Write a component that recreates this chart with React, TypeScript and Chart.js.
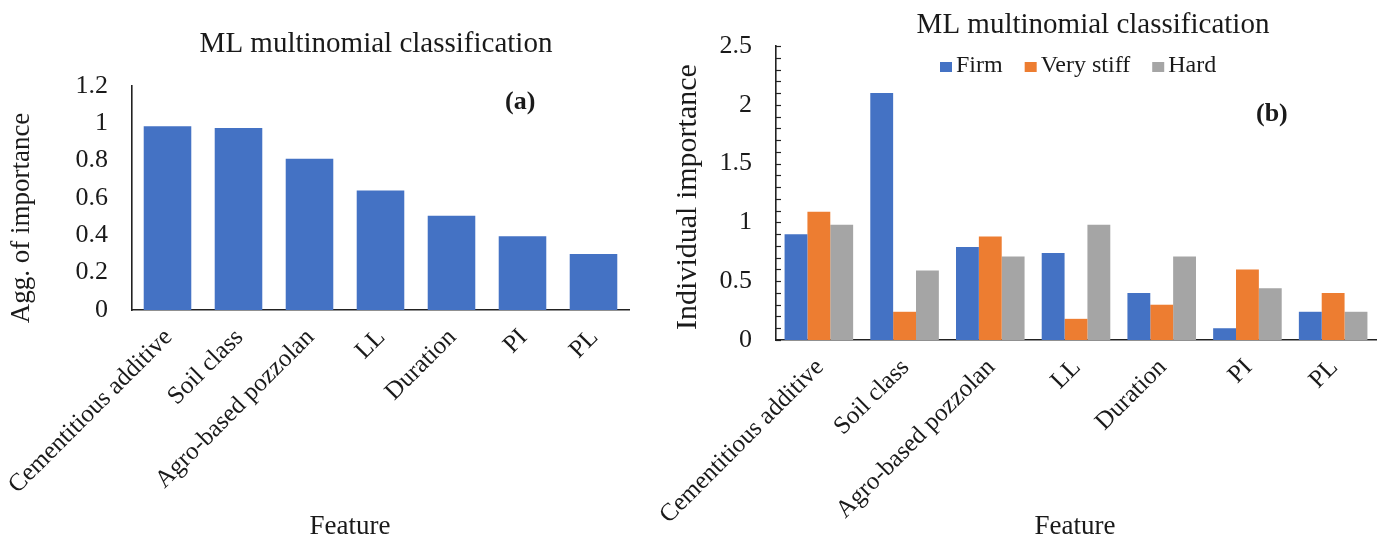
import React, { useEffect, useRef } from "react";
import { Chart, registerables } from "chart.js";

Chart.register(...registerables);

// ---------- data ----------
const CATEGORIES = [
  "Cementitious additive",
  "Soil class",
  "Agro-based pozzolan",
  "LL",
  "Duration",
  "PI",
  "PL",
];
const AGG_IMPORTANCE = [0.985, 0.975, 0.81, 0.64, 0.505, 0.395, 0.3];

const SERIES_LABELS = ["Firm", "Very stiff", "Hard"];
const FIRM = [0.9, 2.1, 0.79, 0.74, 0.4, 0.1, 0.24];
const VERY_STIFF = [1.09, 0.24, 0.88, 0.18, 0.3, 0.6, 0.4];
const HARD = [0.98, 0.59, 0.71, 0.98, 0.71, 0.44, 0.24];

const LEFT_Y_RANGE = [0, 1.2];
const LEFT_Y_STEP = 0.2;
const RIGHT_Y_RANGE = [0, 2.5];
const RIGHT_Y_STEP = 0.5;
const RIGHT_Y_MINOR_STEP = 0.1;

const TITLE_TEXT = "ML multinomial classification";
const LEFT_Y_TITLE = "Agg. of importance";
const RIGHT_Y_TITLE = "Individual importance";
const X_TITLE = "Feature";

// ---------- styles ----------
const BLUE = "#4472C4";
const ORANGE = "#ED7D31";
const GRAY = "#A5A5A5";
const TEXT = "#1a1a1a";
const AXIS = "#222222";
const FAMILY = "'Liberation Serif', 'Times New Roman', serif";

const overlayPlugin = {
  id: "overlay",
  afterDraw(chart: any, _args: any, opts: any) {
    const ctx = chart.ctx;
    ctx.save();
    // minor ticks on y axis (inside)
    if (opts.minorStep) {
      const ys = chart.scales.y;
      const x0 = chart.chartArea.left;
      ctx.strokeStyle = AXIS;
      ctx.lineWidth = 1.2;
      const n = Math.round((ys.max - ys.min) / opts.minorStep);
      for (let i = 0; i <= n; i++) {
        const v = ys.min + i * opts.minorStep;
        const py = Math.round(ys.getPixelForValue(v)) + 0.5;
        ctx.beginPath();
        ctx.moveTo(x0, py);
        ctx.lineTo(x0 + 5, py);
        ctx.stroke();
      }
    }
    // texts
    for (const t of opts.texts || []) {
      ctx.save();
      ctx.font = t.font;
      ctx.fillStyle = TEXT;
      ctx.textAlign = t.align || "center";
      ctx.textBaseline = t.baseline || "alphabetic";
      ctx.translate(t.x, t.y);
      if (t.rotate) ctx.rotate(t.rotate);
      ctx.fillText(t.text, 0, 0);
      ctx.restore();
    }
    // legend
    if (opts.legend) {
      const L = opts.legend;
      ctx.font = L.font;
      ctx.textBaseline = "middle";
      ctx.textAlign = "left";
      let x = L.x;
      chart.data.datasets.forEach((ds: any) => {
        ctx.fillStyle = ds.backgroundColor;
        ctx.fillRect(x, L.y - L.box / 2, L.boxW, L.box);
        x += L.boxW + L.gap;
        ctx.fillStyle = TEXT;
        ctx.fillText(ds.label, x, L.y - 1);
        x += ctx.measureText(ds.label).width + L.spacing;
      });
    }
    ctx.restore();
  },
};

function baseScales(opts: {
  yMin: number;
  yMax: number;
  yStep: number;
  yWidth: number;
  xHeight: number;
}) {
  const tickFont = { family: FAMILY, size: 26 };
  return {
    x: {
      grid: { display: false, drawTicks: false },
      border: { display: true, color: AXIS, width: 1.6 },
      ticks: {
        autoSkip: false,
        maxRotation: 45,
        minRotation: 45,
        padding: 13,
        labelOffset: 1,
        font: { family: FAMILY, size: 25 },
        color: TEXT,
      },
      afterFit: (s: any) => {
        s.height = opts.xHeight;
        s.paddingLeft = 0;
        s.paddingRight = 0;
      },
    },
    y: {
      min: opts.yMin,
      max: opts.yMax,
      grid: { display: false, drawTicks: false },
      border: { display: true, color: AXIS, width: 1.6 },
      ticks: {
        stepSize: opts.yStep,
        padding: 24,
        font: tickFont,
        color: TEXT,
        callback: (v: any) => String(+Number(v).toFixed(2)),
      },
      afterFit: (s: any) => {
        s.width = opts.yWidth;
        s.paddingTop = 0;
        s.paddingBottom = 0;
      },
    },
  };
}

function useChart(ref: React.RefObject<HTMLCanvasElement>, makeConfig: () => any) {
  useEffect(() => {
    if (!ref.current) return;
    const chart = new Chart(ref.current, makeConfig());
    return () => chart.destroy();
  }, []);
}

export default function App() {
  const leftRef = useRef<HTMLCanvasElement>(null);
  const rightRef = useRef<HTMLCanvasElement>(null);

  useChart(leftRef, () => ({
    type: "bar",
    data: {
      labels: CATEGORIES,
      datasets: [
        {
          label: LEFT_Y_TITLE,
          data: AGG_IMPORTANCE,
          backgroundColor: BLUE,
          barPercentage: 0.67,
          categoryPercentage: 1,
        },
      ],
    },
    plugins: [overlayPlugin],
    options: {
      responsive: false,
      animation: false,
      layout: { padding: { left: 0, right: 11, top: 86, bottom: 0 } },
      plugins: {
        legend: { display: false },
        title: { display: false },
        tooltip: { enabled: false },
        overlay: {
          texts: [
            { text: TITLE_TEXT, x: 376, y: 52, font: `29px ${FAMILY}` },
            { text: "(a)", x: 505, y: 109, font: `bold 26px ${FAMILY}`, align: "left" },
            { text: LEFT_Y_TITLE, x: 22, y: 218, font: `27px ${FAMILY}`, rotate: -Math.PI / 2, baseline: "middle" },
            { text: X_TITLE, x: 350, y: 527, font: `27px ${FAMILY}`, baseline: "middle" },
          ],
        },
      },
      scales: baseScales({
        yMin: LEFT_Y_RANGE[0],
        yMax: LEFT_Y_RANGE[1],
        yStep: LEFT_Y_STEP,
        yWidth: 132,
        xHeight: 233,
      }),
    },
  }));

  useChart(rightRef, () => ({
    type: "bar",
    data: {
      labels: CATEGORIES,
      datasets: [
        { label: SERIES_LABELS[0], data: FIRM, backgroundColor: BLUE },
        { label: SERIES_LABELS[1], data: VERY_STIFF, backgroundColor: ORANGE },
        { label: SERIES_LABELS[2], data: HARD, backgroundColor: GRAY },
      ].map((d) => ({ ...d, barPercentage: 1, categoryPercentage: 0.8 })),
    },
    plugins: [overlayPlugin],
    options: {
      responsive: false,
      animation: false,
      layout: { padding: { left: 0, right: 5, top: 46, bottom: 0 } },
      plugins: {
        legend: { display: false },
        title: { display: false },
        tooltip: { enabled: false },
        overlay: {
          minorStep: RIGHT_Y_MINOR_STEP,
          texts: [
            { text: TITLE_TEXT, x: 453, y: 33, font: `29px ${FAMILY}` },
            { text: "(b)", x: 616, y: 121, font: `bold 26px ${FAMILY}`, align: "left" },
            { text: RIGHT_Y_TITLE, x: 48, y: 197, font: `30px ${FAMILY}`, rotate: -Math.PI / 2, baseline: "middle" },
            { text: X_TITLE, x: 435, y: 527, font: `27px ${FAMILY}`, baseline: "middle" },
          ],
          legend: { x: 300, y: 67, box: 10, boxW: 12, gap: 4, spacing: 22, font: `24px ${FAMILY}` },
        },
      },
      scales: baseScales({
        yMin: RIGHT_Y_RANGE[0],
        yMax: RIGHT_Y_RANGE[1],
        yStep: RIGHT_Y_STEP,
        yWidth: 136,
        xHeight: 203,
      }),
    },
  }));

  return (
    <div
      style={{
        position: "absolute",
        left: 0,
        top: 0,
        width: 1381,
        height: 543,
        background: "#fff",
        overflow: "hidden",
      }}
    >
      <div style={{ position: "absolute", left: 0, top: 0, width: 640, height: 543 }}>
        <canvas ref={leftRef} width={640} height={543} style={{ display: "block" }} />
      </div>
      <div style={{ position: "absolute", left: 640, top: 0, width: 741, height: 543 }}>
        <canvas ref={rightRef} width={741} height={543} style={{ display: "block" }} />
      </div>
    </div>
  );
}
